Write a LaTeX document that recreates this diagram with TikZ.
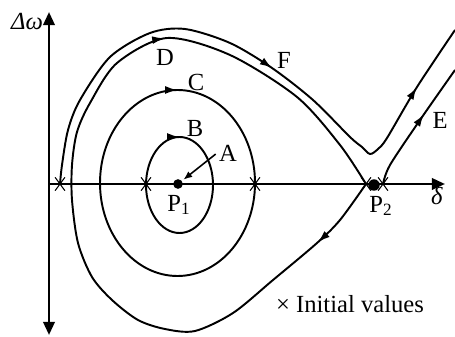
\documentclass[tikz,border=0pt]{standalone}
\usepackage{fontspec}
\setmainfont{Liberation Serif}
\usetikzlibrary{arrows.meta,decorations.markings,shapes.misc}

\newcommand{\trajtip}{\arrow{Latex[length=7pt,width=4.5pt]}}

\tikzset{
    axis/.style={line width=1.5pt, >={Triangle[length=7.5pt,width=6.5pt]}},
    traj/.style={line width=1.1pt},
    initval/.style={draw, cross out, line width=0.6pt, minimum width=5pt, minimum height=7pt, inner sep=0pt},
    eqpoint/.style={circle, fill, inner sep=0pt, minimum size=#1},
    lbl/.style={inner sep=1pt, font=\fontsize{14}{16}\selectfont},
}

\begin{document}
\begin{tikzpicture}[x=0.02cm, y=-0.02cm]
    \useasboundingbox (0,0) rectangle (455,337);

    % 坐标轴
    \coordinate (wtop) at (49,12);
    \coordinate (wbot) at (49,335);
    \coordinate (dorig) at (49,184);
    \coordinate (dend) at (445,184);
    \draw[axis, <->] (wbot) -- (wtop);
    \draw[axis, ->] (dorig) -- (dend);
    \node[lbl] (wlab) at (27,22) {\textit{Δω}};
    \node[lbl] (dlab) at (437,196) {\textit{δ}};

    % 平衡点
    \node[eqpoint=5.5pt] (P1) at (178,184) {};
    \node[eqpoint=6.5pt] (P2) at (374,185) {};
    \node[lbl] (P1lab) at (179,205) {P\textsubscript{1}};
    \node[lbl] (P2lab) at (381,206) {P\textsubscript{2}};

    % 初始值
    \node[initval] (x1) at (60,184) {};
    \node[initval] (x2) at (146,184) {};
    \node[initval] (x3) at (255,184) {};
    \node[initval] (x4) at (366,184) {};
    \node[initval] (x5) at (383,184) {};

    % 轨迹 B, C
    \draw[traj, postaction={decorate, decoration={markings, mark=at position 0.75 with {\trajtip}}}]
        (179.5,185) ellipse [x radius=33.5, y radius=48];
    \draw[traj, postaction={decorate, decoration={markings, mark=at position 0.75 with {\trajtip}}}]
        (177.5,183) ellipse [x radius=77.5, y radius=93];

    % 轨迹 D
    \draw[traj, postaction={decorate, decoration={markings, mark=at position 0.085 with {\trajtip}, mark=at position 0.71 with {\trajtip}}}]
        plot[smooth] coordinates {(x4.center) (340,220) (317,243) (273,280) (233,313) (195,331) (165,329) (138,320)
        (112,300) (92,277) (78,243) (72,200) (72,165) (77,132) (90,103) (117,63) (167,38) (230,55)
        (297,97) (340,145) (x4.center)};

    % 轨迹 F
    \draw[traj, postaction={decorate, decoration={markings, mark=at position 0.53 with {\trajtip}, mark=at position 0.885 with {\trajtip}}}]
        plot[smooth] coordinates {(x1.center) (62,165) (68,130) (80,100) (110,57) (150,33) (185,29) (230,43)
        (272,68) (313,100) (350,137) (362,147) (370,154) (378,149) (387,138) (417,87) (455,30)};

    % 轨迹 E
    \draw[traj, postaction={decorate, decoration={markings, mark=at position 0.6 with {\trajtip}}}]
        plot[smooth] coordinates {(x5.center) (390,165) (420,120) (455,70)};

    % 标注
    \node[lbl] (labA) at (228,153) {A};
    \node[lbl] (labB) at (195,128) {B};
    \node[lbl] (labC) at (196,82) {C};
    \node[lbl] (labD) at (165,57) {D};
    \node[lbl] (labE) at (440,120) {E};
    \node[lbl] (labF) at (284,60) {F};
    \draw[line width=0.9pt, -{Latex[length=5pt,width=4pt]}, shorten <=1pt, shorten >=1pt] (labA.west) -- (P1);

    \node[lbl] (legend) at (350,304) {× Initial values};
\end{tikzpicture}
\end{document}
